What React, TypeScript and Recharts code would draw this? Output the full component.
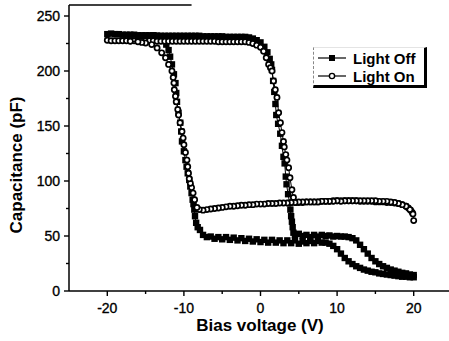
import React from 'react';
import { ScatterChart, Scatter, XAxis, YAxis, Legend, ReferenceLine } from 'recharts';

type Pt = [number, number];

// Axis ticks
const xTicks = [-20, -15, -10, -5, 0, 5, 10, 15, 20];
const xMajor = [-20, -10, 0, 10, 20];
const yTicks = [0, 25, 50, 75, 100, 125, 150, 175, 200, 225, 250];
const yMajor = [0, 50, 100, 150, 200, 250];

// Light Off, forward sweep (-20 V -> +20 V): [bias V, capacitance pF]
const lightOffForward: Pt[] = [
  [-20, 233.5], [-19.5, 234], [-19, 233.5], [-18.5, 233.5], [-18, 233], [-17.5, 233], [-17, 233], [-16.5, 233],
  [-16, 232.5], [-15.5, 232.5], [-15, 232.5], [-14.5, 232.5], [-14, 232.5], [-13.5, 232], [-13, 232], [-12.5, 232],
  [-12, 232], [-11.5, 232], [-11, 232], [-10.5, 232], [-10, 232], [-9.5, 232], [-9, 232], [-8.5, 232], [-8, 232],
  [-7.5, 231.5], [-7, 231.5], [-6.5, 231.5], [-6, 231.5], [-5.5, 231.5], [-5, 231.5], [-4.5, 231], [-4, 231],
  [-3.5, 231], [-3, 231], [-2.5, 231], [-2, 231], [-1.5, 230.5], [-1, 229.5], [-0.5, 228], [0, 226], [0.5, 222],
  [0.9, 217], [1.2, 211], [1.4, 206], [1.5, 201], [1.65, 191], [1.8, 181], [1.95, 170], [2.06, 160], [2.3, 152],
  [2.58, 143], [2.8, 132], [3.0, 122], [3.15, 116], [3.3, 104], [3.4, 97], [3.6, 88], [3.8, 80], [3.9, 74],
  [4.0, 68], [4.1, 63], [4.2, 58], [4.3, 53], [4.5, 51],
  [5, 52], [5.5, 50], [6, 51], [6.5, 49], [7, 51], [7.5, 49.5], [8, 51], [8.5, 50], [9, 50.5], [9.5, 49.5],
  [10, 50], [10.5, 49.5], [11, 49.5], [11.5, 49], [12, 48], [12.5, 46], [13, 42], [13.5, 38], [14, 34],
  [14.5, 30], [15, 27], [15.5, 24.5], [16, 22.5], [16.5, 21], [17, 19.5], [17.5, 18.5], [18, 17.5],
  [18.5, 16.5], [19, 16], [19.5, 15], [20, 14.5],
];

// Light Off, reverse sweep (+20 V -> -20 V)
const lightOffReverse: Pt[] = [
  [20, 12.5], [19.5, 12.5], [19, 13], [18.5, 13], [18, 13.5], [17.5, 14], [17, 14.5], [16.5, 15], [16, 15.5],
  [15.5, 16], [15, 17], [14.5, 17.5], [14, 18.5], [13.5, 19.5], [13, 21], [12.5, 22.5], [12, 24.5], [11.5, 27],
  [11, 30], [10.5, 34], [10, 38], [9.5, 41], [9, 43], [8.5, 44], [8, 44], [7.5, 45.5], [7, 43.5], [6.5, 45.5],
  [6, 43.5], [5.5, 45], [5, 43], [4.5, 46], [4, 43.5], [3.5, 46], [3, 43.5], [2.5, 46], [2, 44], [1.5, 46.5],
  [1, 44], [0.5, 46.5], [0, 44.5], [-0.5, 47], [-1, 45], [-1.5, 47.5], [-2, 45.5], [-2.5, 48], [-3, 46],
  [-3.5, 48.5], [-4, 46.5], [-4.5, 49], [-5, 47], [-5.5, 49], [-6, 47.5], [-6.5, 49.5], [-7, 49], [-7.5, 51],
  [-7.9, 55.5], [-8.2, 58], [-8.4, 62], [-8.55, 68], [-8.64, 74], [-8.75, 79], [-8.86, 83], [-9.0, 89],
  [-9.16, 95], [-9.3, 101], [-9.5, 107], [-9.65, 113], [-9.8, 119], [-10.0, 127], [-10.25, 136], [-10.35, 145],
  [-10.47, 153], [-10.7, 162], [-10.9, 172], [-11.0, 180], [-11.1, 189], [-11.3, 197], [-11.56, 206],
  [-11.8, 213], [-12, 219], [-12.3, 224], [-12.6, 228], [-13, 230.5], [-13.5, 232], [-14, 232.5],
];

// Light On, forward sweep
const lightOnForward: Pt[] = [
  [-20, 228], [-19.5, 227.5], [-19, 227.5], [-18.5, 227.5], [-18, 227.5], [-17.5, 227.5], [-17, 227.5],
  [-16.5, 227.5], [-16, 227.5], [-15.5, 227.5], [-15, 227.5], [-14.5, 227.5], [-14, 227.5], [-13.5, 227],
  [-13, 227], [-12.5, 227], [-12, 227], [-11.5, 227], [-11, 227], [-10.5, 227], [-10, 227], [-9.5, 227],
  [-9, 227], [-8.5, 227], [-8, 227], [-7.5, 227], [-7, 227], [-6.5, 227], [-6, 227], [-5.5, 226.5],
  [-5, 226.5], [-4.5, 226.5], [-4, 226.5], [-3.5, 226.5], [-3, 226.5], [-2.5, 226.5], [-2, 226.5],
  [-1.5, 226], [-1, 225], [-0.5, 223.5], [0, 221.5], [0.4, 218], [0.75, 212], [1.06, 206], [1.3, 203],
  [1.5, 200], [1.7, 191], [1.93, 183], [2.15, 176], [2.37, 162], [2.6, 153], [2.8, 144], [3.0, 136],
  [3.1, 131], [3.3, 124], [3.45, 119], [3.67, 112], [3.85, 103], [4.1, 92], [4.3, 85], [4.6, 80.5],
  [5, 80.5], [5.5, 80.5], [6, 81], [6.5, 81], [7, 81], [7.5, 81], [8, 81.5], [8.5, 81.5], [9, 81.5],
  [9.5, 82], [10, 82], [10.5, 82], [11, 82], [11.5, 82], [12, 82], [12.5, 82], [13, 81.5], [13.5, 81.5],
  [14, 81.5], [14.5, 81.5], [15, 81], [15.5, 81], [16, 81], [16.5, 80.5], [17, 80.5], [17.5, 80],
  [18, 79.5], [18.5, 78.5], [19, 77], [19.3, 75.5], [19.6, 73.5], [19.8, 71.5], [19.9, 70], [20, 64],
];

// Light On, reverse sweep
const lightOnReverse: Pt[] = [
  [19.5, 74], [19, 77], [18.5, 78.5], [18, 79.5], [17.5, 80.5],
  [17, 81], [16.5, 81.5], [16, 81.5], [15.5, 81.5], [15, 82], [14.5, 82], [14, 82], [13.5, 82], [13, 82],
  [12.5, 82], [12, 82], [11.5, 82], [11, 82], [10.5, 81.5], [10, 82], [9.5, 81.5], [9, 81.5], [8.5, 81.5],
  [8, 81.5], [7.5, 81], [7, 81], [6.5, 81], [6, 81], [5.5, 81], [5, 81], [4.5, 80.5], [4, 80.5], [3.5, 80],
  [3, 80], [2.5, 80], [2, 79.5], [1.5, 79.5], [1, 79.5], [0.5, 79], [0, 79], [-0.5, 79], [-1, 78.5],
  [-1.5, 78.5], [-2, 78], [-2.5, 78], [-3, 77.5], [-3.5, 77], [-4, 77], [-4.5, 76.5], [-5, 76], [-5.5, 75.5],
  [-6, 75], [-6.5, 74.5], [-7, 74], [-7.5, 73.5], [-8, 74],
  [-8.3, 76], [-8.6, 83], [-8.8, 89], [-9.0, 94], [-9.16, 98], [-9.3, 102], [-9.4, 107], [-9.5, 113],
  [-9.6, 119], [-9.8, 126], [-10.0, 133], [-10.1, 139], [-10.25, 145], [-10.5, 153], [-10.7, 160],
  [-10.8, 165], [-11.0, 172], [-11.1, 177], [-11.25, 183], [-11.3, 189], [-11.4, 194], [-11.56, 200],
  [-12.0, 206], [-12.4, 212], [-12.9, 216.5], [-13.5, 221], [-14.2, 224], [-15, 225.5], [-15.5, 226],
  [-16, 226.5], [-17, 227],
];

const legendLabels = ['Light Off', 'Light On'];

const rows = (pts: Pt[]) => pts.map(([v, c]) => ({ v, c }));

const FONT = "Arial, 'Liberation Sans', Helvetica, sans-serif";

const SquareMark = (p: any) => (
  <rect x={p.cx - 3.2} y={p.cy - 3.2} width={6.4} height={6.4} fill="#000" />
);
const CircleMark = (p: any) => (
  <circle cx={p.cx} cy={p.cy} r={2.6} fill="#fff" stroke="#000" strokeWidth={1.7} />
);

const XTick = (props: any) => {
  const { x, y, payload } = props;
  const v = payload.value;
  const major = xMajor.includes(v);
  const axisY = y - 12;
  return (
    <g>
      <line x1={x} x2={x} y1={axisY} y2={axisY + (major ? 5 : 3)} stroke="#000" strokeWidth={1.4} />
      {major && (
        <text x={x} y={y} dy="0.71em" textAnchor="middle" fontSize={14} fontFamily={FONT} fill="#000" stroke="#000" strokeWidth={0.35}>
          {v}
        </text>
      )}
    </g>
  );
};

const YTick = (props: any) => {
  const { x, y, payload } = props;
  const v = payload.value;
  const major = yMajor.includes(v);
  const axisX = x + 9;
  return (
    <g>
      <line x1={axisX} x2={axisX - (major ? 5 : 3)} y1={y} y2={y} stroke="#000" strokeWidth={1.4} />
      {major && (
        <text x={x} y={y} dy="0.355em" textAnchor="end" fontSize={14} fontFamily={FONT} fill="#000" stroke="#000" strokeWidth={0.35}>
          {v}
        </text>
      )}
    </g>
  );
};

const XTitle = () => (
  <text x={260} y={331} textAnchor="middle" fontSize={17} fontWeight="bold" fontFamily={FONT} fill="#000">
    Bias voltage (V)
  </text>
);

const YTitle = () => (
  <text
    x={22}
    y={165}
    transform="rotate(-90, 22, 165)"
    textAnchor="middle"
    fontSize={17}
    fontWeight="bold"
    fontFamily={FONT}
    fill="#000"
  >
    Capacitance (pF)
  </text>
);

const LegendBox = () => (
  <div
    style={{
      width: 110,
      height: 37,
      borderLeft: '1px dashed #888',
      borderTop: '1px solid #e4e4e4',
      borderRight: '3px solid #000',
      borderBottom: '3px solid #000',
      background: '#fff',
    }}
  >
    <svg width={110} height={37} style={{ display: 'block' }}>
      <line x1={4} x2={32} y1={10} y2={10} stroke="#000" strokeWidth={1.2} />
      <rect x={15} y={7} width={6} height={6} fill="#000" />
      <text x={39} y={15.5} fontSize={15} fontWeight="bold" fontFamily={FONT} fill="#000">
        {legendLabels[0]}
      </text>
      <line x1={4} x2={32} y1={28} y2={28} stroke="#000" strokeWidth={1.2} />
      <circle cx={18} cy={28} r={2.6} fill="#fff" stroke="#000" strokeWidth={1.4} />
      <text x={39} y={33.5} fontSize={15} fontWeight="bold" fontFamily={FONT} fill="#000">
        {legendLabels[1]}
      </text>
    </svg>
  </div>
);

export default function App() {
  return (
    <div
      style={{
        position: 'absolute',
        left: 0,
        top: 0,
        width: 449,
        height: 341,
        overflow: 'hidden',
        background: '#fff',
      }}
    >
      <ScatterChart width={452} height={341} margin={{ top: 5, right: 0, bottom: 0, left: 0 }}>
        <XAxis
          type="number"
          dataKey="v"
          domain={[-25, 25]}
          ticks={xTicks}
          interval={0}
          height={50}
          tickSize={5}
          tickMargin={7}
          tickLine={false}
          tick={<XTick />}
          axisLine={{ stroke: '#000', strokeWidth: 1.5 }}
          allowDataOverflow
          label={<XTitle />}
        />
        <YAxis
          type="number"
          dataKey="c"
          domain={[0, 260]}
          ticks={yTicks}
          interval={0}
          width={69}
          tickSize={5}
          tickMargin={4}
          tickLine={false}
          tick={<YTick />}
          axisLine={{ stroke: '#000', strokeWidth: 1.5 }}
          allowDataOverflow
          label={<YTitle />}
        />
        <ReferenceLine
          segment={[{ x: -25, y: 260 }, { x: -9, y: 260 }]}
          stroke="#000"
          strokeWidth={1.5}
          ifOverflow="visible"
        />
        <Scatter
          name="Light Off"
          data={rows(lightOffForward)}
          line={{ stroke: '#000', strokeWidth: 1 }}
          lineJointType="linear"
          shape={SquareMark}
          isAnimationActive={false}
        />
        <Scatter
          name="Light Off (reverse)"
          data={rows(lightOffReverse)}
          line={{ stroke: '#000', strokeWidth: 1 }}
          lineJointType="linear"
          shape={SquareMark}
          isAnimationActive={false}
        />
        <Scatter
          name="Light On"
          data={rows(lightOnForward)}
          line={{ stroke: '#000', strokeWidth: 1 }}
          lineJointType="linear"
          shape={CircleMark}
          isAnimationActive={false}
        />
        <Scatter
          name="Light On (reverse)"
          data={rows(lightOnReverse)}
          line={{ stroke: '#000', strokeWidth: 1 }}
          lineJointType="linear"
          shape={CircleMark}
          isAnimationActive={false}
        />
        <Legend
          layout="vertical"
          align="center"
          verticalAlign="middle"
          content={<LegendBox />}
          wrapperStyle={{ left: 313, top: 47, width: 114, height: 41 }}
        />
      </ScatterChart>
    </div>
  );
}
